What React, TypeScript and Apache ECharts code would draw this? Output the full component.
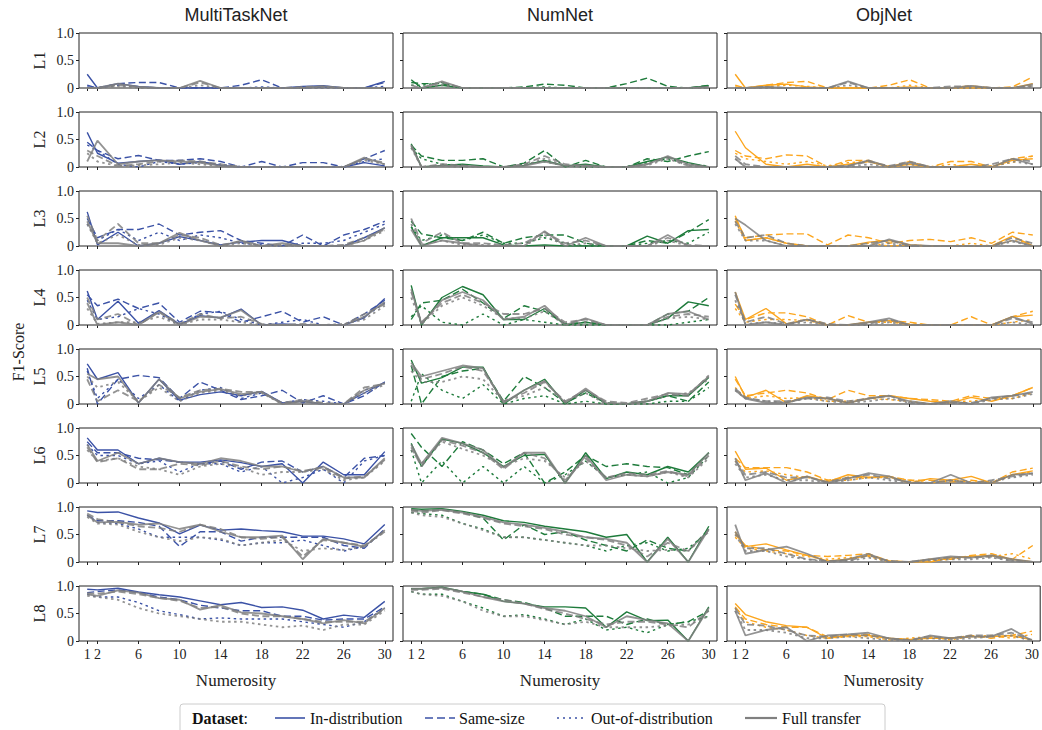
import React, { useEffect, useRef } from "react";
import * as echarts from "echarts";

// ---------- data ----------
const NUMEROSITY = [1, 2, 4, 6, 8, 10, 12, 14, 16, 18, 20, 22, 24, 26, 28, 30];
const X_TICKS = [1, 2, 6, 10, 14, 18, 22, 26, 30];
const MODELS = ["MultiTaskNet", "NumNet", "ObjNet"];
const LEVELS = ["L1", "L2", "L3", "L4", "L5", "L6", "L7", "L8"];
const DATASETS = ["In-distribution", "Same-size", "Out-of-distribution", "Full transfer"];
const MODEL_COLORS = ["#3b52a6", "#1e7b3b", "#fca61e"];
const GRAY = "#808080";

// id = In-distribution, ss = Same-size, ood = Out-of-distribution; ft* = Full transfer counterparts
const MTN_L1 = {
  id: [0.25, 0, 0.08, 0.03, 0, 0, 0, 0, 0, 0, 0, 0.03, 0.04, 0, 0, 0.12],
  ss: [0.05, 0, 0.08, 0.1, 0.1, 0, 0, 0, 0.05, 0.15, 0, 0, 0.02, 0, 0, 0.1],
  ood: [0.02, 0, 0.05, 0.02, 0, 0, 0, 0, 0, 0.02, 0, 0, 0, 0, 0, 0.03],
  ftId: [0, 0, 0.08, 0.02, 0, 0, 0.13, 0, 0, 0, 0, 0, 0.03, 0, 0, 0],
  ftSs: [0, 0, 0.05, 0.02, 0, 0, 0.1, 0, 0, 0, 0, 0.02, 0.03, 0, 0, 0],
  ftOod: [0, 0, 0.03, 0, 0, 0, 0.05, 0, 0, 0, 0, 0, 0, 0, 0, 0],
};
const MTN_L2 = {
  id: [0.63, 0.25, 0.07, 0.1, 0.13, 0.05, 0.1, 0.03, 0, 0, 0, 0, 0, 0, 0.08, 0.02],
  ss: [0.45, 0.3, 0.15, 0.21, 0.12, 0.12, 0.15, 0.1, 0, 0.1, 0, 0.08, 0.08, 0, 0.15, 0.3],
  ood: [0.4, 0.3, 0.05, 0, 0.1, 0.05, 0.08, 0.05, 0, 0, 0, 0, 0, 0, 0.1, 0.15],
  ftId: [0.1, 0.48, 0.05, 0.1, 0.12, 0.1, 0.08, 0.02, 0, 0, 0, 0, 0, 0, 0.17, 0.05],
  ftSs: [0.3, 0.2, 0.02, 0.05, 0.1, 0.12, 0.1, 0.05, 0, 0, 0, 0, 0, 0, 0.15, 0.08],
  ftOod: [0.25, 0.1, 0.02, 0.03, 0.05, 0.08, 0.05, 0.02, 0, 0, 0, 0, 0, 0, 0.12, 0.05],
};
const MTN_L3 = {
  id: [0.62, 0.02, 0.25, 0, 0.05, 0.17, 0.1, 0.02, 0.07, 0.1, 0.1, 0, 0, 0, 0.15, 0.33],
  ss: [0.5, 0.15, 0.3, 0.3, 0.4, 0.2, 0.25, 0.28, 0.1, 0.05, 0, 0.2, 0, 0.2, 0.3, 0.45],
  ood: [0.4, 0.1, 0.3, 0.1, 0.25, 0.1, 0.2, 0.15, 0.05, 0.02, 0, 0.05, 0.05, 0.1, 0.25, 0.4],
  ftId: [0.45, 0.05, 0.05, 0, 0.05, 0.24, 0.1, 0, 0.1, 0, 0.05, 0, 0, 0, 0.1, 0.33],
  ftSs: [0.55, 0.1, 0.4, 0.05, 0.05, 0.2, 0.15, 0.02, 0.08, 0, 0.02, 0, 0, 0.02, 0.15, 0.3],
  ftOod: [0.4, 0.05, 0.2, 0.02, 0.02, 0.15, 0.1, 0, 0.05, 0, 0, 0, 0, 0, 0.1, 0.28],
};
const MTN_L4 = {
  id: [0.62, 0.1, 0.43, 0.03, 0.26, 0.01, 0.17, 0.13, 0.29, 0, 0.02, 0, 0, 0, 0.13, 0.48],
  ss: [0.55, 0.35, 0.47, 0.3, 0.4, 0.05, 0.25, 0.23, 0.05, 0.15, 0.25, 0.05, 0.15, 0, 0.2, 0.45],
  ood: [0.45, 0.1, 0.15, 0.3, 0.2, 0, 0.2, 0.25, 0.1, 0, 0.05, 0.1, 0, 0, 0.15, 0.4],
  ftId: [0.4, 0, 0.05, 0, 0.23, 0, 0.15, 0.14, 0.27, 0, 0, 0, 0, 0, 0.15, 0.42],
  ftSs: [0.5, 0.1, 0.2, 0, 0.25, 0.02, 0.2, 0.12, 0.15, 0.02, 0, 0.02, 0, 0, 0.2, 0.38],
  ftOod: [0.3, 0.02, 0.05, 0.05, 0.15, 0, 0.1, 0.1, 0.05, 0, 0, 0, 0, 0.02, 0.1, 0.35],
};
const MTN_L5 = {
  id: [0.73, 0.45, 0.57, 0.02, 0.45, 0.07, 0.17, 0.22, 0.15, 0.23, 0.02, 0.05, 0, 0, 0.2, 0.4],
  ss: [0.65, 0, 0.45, 0.52, 0.48, 0.1, 0.4, 0.25, 0.08, 0.15, 0.25, 0.02, 0.15, 0, 0.15, 0.4],
  ood: [0.6, 0.1, 0.45, 0.1, 0.35, 0.05, 0.25, 0.3, 0.1, 0.2, 0.02, 0.08, 0.05, 0, 0.25, 0.38],
  ftId: [0.55, 0.45, 0.5, 0.02, 0.45, 0.1, 0.22, 0.27, 0.18, 0.22, 0, 0.05, 0, 0, 0.25, 0.38],
  ftSs: [0.45, 0.05, 0.25, 0.05, 0.35, 0.12, 0.25, 0.28, 0.22, 0.22, 0.02, 0.08, 0.02, 0, 0.3, 0.37],
  ftOod: [0.5, 0.3, 0.4, 0.05, 0.3, 0.05, 0.2, 0.25, 0.15, 0.2, 0, 0.05, 0, 0, 0.2, 0.35],
};
const MTN_L6 = {
  id: [0.82, 0.6, 0.6, 0.35, 0.45, 0.38, 0.38, 0.42, 0.37, 0.3, 0.35, 0, 0.38, 0.15, 0.15, 0.57],
  ss: [0.75, 0.55, 0.55, 0.45, 0.42, 0.38, 0.35, 0.4, 0.25, 0.38, 0.4, 0.2, 0.3, 0.1, 0.45, 0.5],
  ood: [0.7, 0.5, 0.5, 0.35, 0.4, 0.2, 0.35, 0.35, 0.2, 0.3, 0, 0.1, 0.25, 0, 0.4, 0.5],
  ftId: [0.7, 0.4, 0.55, 0.35, 0.45, 0.38, 0.35, 0.45, 0.4, 0.3, 0.3, 0.2, 0.3, 0.1, 0.1, 0.45],
  ftSs: [0.65, 0.38, 0.45, 0.25, 0.25, 0.35, 0.32, 0.4, 0.3, 0.25, 0.3, 0.22, 0.28, 0.08, 0.12, 0.42],
  ftOod: [0.6, 0.4, 0.45, 0.3, 0.25, 0.15, 0.3, 0.35, 0.28, 0.15, 0.2, 0.2, 0.25, 0.05, 0.1, 0.4],
};
const MTN_L7 = {
  id: [0.93, 0.9, 0.91, 0.8, 0.71, 0.51, 0.67, 0.58, 0.6, 0.57, 0.55, 0.47, 0.47, 0.42, 0.33, 0.68],
  ss: [0.85, 0.75, 0.75, 0.72, 0.65, 0.28, 0.55, 0.55, 0.38, 0.45, 0.45, 0.45, 0.45, 0.3, 0.25, 0.6],
  ood: [0.85, 0.72, 0.7, 0.6, 0.45, 0.45, 0.45, 0.4, 0.3, 0.35, 0.35, 0.4, 0.3, 0.2, 0.28, 0.58],
  ftId: [0.85, 0.72, 0.73, 0.68, 0.7, 0.6, 0.68, 0.55, 0.45, 0.45, 0.48, 0.05, 0.42, 0.35, 0.28, 0.58],
  ftSs: [0.88, 0.78, 0.72, 0.65, 0.62, 0.55, 0.68, 0.6, 0.45, 0.42, 0.45, 0.1, 0.4, 0.35, 0.3, 0.55],
  ftOod: [0.82, 0.7, 0.68, 0.55, 0.45, 0.38, 0.45, 0.42, 0.3, 0.35, 0.4, 0.2, 0.25, 0.22, 0.28, 0.55],
};
const MTN_L8 = {
  id: [0.94, 0.93, 0.96, 0.89, 0.84, 0.8, 0.73, 0.66, 0.7, 0.61, 0.62, 0.56, 0.4, 0.47, 0.43, 0.72],
  ss: [0.88, 0.9, 0.93, 0.88, 0.8, 0.75, 0.65, 0.6, 0.55, 0.55, 0.45, 0.45, 0.38, 0.4, 0.4, 0.62],
  ood: [0.85, 0.8, 0.8, 0.7, 0.55, 0.48, 0.4, 0.42, 0.4, 0.4, 0.4, 0.35, 0.3, 0.25, 0.35, 0.6],
  ftId: [0.85, 0.82, 0.92, 0.88, 0.78, 0.75, 0.57, 0.65, 0.52, 0.5, 0.45, 0.4, 0.32, 0.38, 0.32, 0.6],
  ftSs: [0.87, 0.86, 0.9, 0.85, 0.78, 0.73, 0.6, 0.62, 0.5, 0.45, 0.45, 0.4, 0.35, 0.35, 0.35, 0.58],
  ftOod: [0.82, 0.8, 0.75, 0.6, 0.5, 0.45, 0.4, 0.35, 0.35, 0.3, 0.25, 0.28, 0.2, 0.3, 0.3, 0.55],
};

const NUM_L1 = {
  id: [0.15, 0, 0.05, 0, 0, 0, 0, 0, 0, 0, 0, 0, 0, 0, 0, 0.04],
  ss: [0.1, 0.08, 0.08, 0, 0, 0, 0.02, 0.07, 0.05, 0, 0, 0.08, 0.18, 0.03, 0, 0.05],
  ood: [0.05, 0.05, 0.1, 0, 0, 0, 0, 0.02, 0, 0, 0, 0, 0, 0, 0, 0],
  ftId: [0, 0, 0.12, 0, 0, 0, 0, 0, 0, 0, 0, 0, 0, 0, 0, 0.02],
  ftSs: [0.05, 0, 0.1, 0, 0, 0, 0, 0, 0, 0, 0, 0, 0, 0, 0, 0],
  ftOod: [0, 0, 0.05, 0, 0, 0, 0, 0, 0, 0, 0, 0, 0, 0, 0, 0],
};
const NUM_L2 = {
  id: [0.42, 0, 0.03, 0.05, 0.02, 0, 0.03, 0.12, 0.02, 0.05, 0, 0, 0.1, 0.18, 0.08, 0],
  ss: [0.4, 0.2, 0.12, 0.12, 0.15, 0, 0.07, 0.3, 0, 0.12, 0, 0, 0.15, 0.1, 0.2, 0.28],
  ood: [0.35, 0.15, 0.05, 0.02, 0, 0, 0.05, 0.1, 0.02, 0, 0, 0, 0.08, 0.15, 0.05, 0.02],
  ftId: [0.4, 0, 0.02, 0.02, 0, 0, 0.02, 0.1, 0.02, 0.03, 0, 0, 0.05, 0.2, 0.05, 0],
  ftSs: [0.38, 0, 0.05, 0.03, 0, 0, 0.05, 0.2, 0.05, 0.02, 0, 0, 0.05, 0.18, 0.02, 0],
  ftOod: [0.35, 0, 0.02, 0, 0, 0, 0.03, 0.15, 0.03, 0, 0, 0, 0.03, 0.15, 0.02, 0],
};
const NUM_L3 = {
  id: [0.35, 0, 0.15, 0.15, 0.15, 0.02, 0, 0.02, 0, 0, 0, 0, 0.18, 0.05, 0.28, 0.3],
  ss: [0.45, 0.22, 0.15, 0.1, 0.25, 0.05, 0.15, 0.2, 0.2, 0.05, 0, 0, 0.1, 0.05, 0.25, 0.48],
  ood: [0.35, 0.1, 0.2, 0.1, 0.2, 0.05, 0.05, 0.15, 0.05, 0, 0, 0, 0.05, 0.1, 0.05, 0.25],
  ftId: [0.3, 0, 0.1, 0.05, 0, 0, 0, 0.27, 0, 0.15, 0, 0, 0, 0.2, 0, 0],
  ftSs: [0.5, 0.05, 0.25, 0.05, 0.05, 0.02, 0.05, 0.25, 0.05, 0.1, 0, 0, 0, 0.15, 0.02, 0],
  ftOod: [0.4, 0.02, 0.1, 0.02, 0.02, 0, 0, 0.2, 0, 0.05, 0, 0, 0, 0.1, 0, 0],
};
const NUM_L4 = {
  id: [0.72, 0, 0.5, 0.7, 0.55, 0.1, 0.1, 0.3, 0, 0.05, 0, 0, 0, 0.12, 0.42, 0.35],
  ss: [0.1, 0.4, 0.45, 0.65, 0.4, 0.12, 0.35, 0.25, 0.02, 0.05, 0, 0, 0, 0.2, 0.25, 0.5],
  ood: [0.15, 0.35, 0.05, 0, 0.2, 0, 0.1, 0.05, 0, 0, 0, 0, 0, 0, 0.05, 0.1],
  ftId: [0.65, 0.02, 0.45, 0.6, 0.45, 0.1, 0.15, 0.35, 0, 0.12, 0, 0, 0, 0.2, 0.25, 0.1],
  ftSs: [0.6, 0.05, 0.4, 0.55, 0.4, 0.2, 0.2, 0.3, 0.05, 0.1, 0, 0, 0, 0.15, 0.2, 0.15],
  ftOod: [0.5, 0.02, 0.35, 0.5, 0.35, 0.12, 0.12, 0.25, 0, 0.05, 0, 0, 0, 0.12, 0.15, 0.1],
};
const NUM_L5 = {
  id: [0.8, 0.38, 0.48, 0.67, 0.67, 0, 0.25, 0.45, 0, 0.25, 0, 0, 0.05, 0.15, 0.15, 0.48],
  ss: [0.7, 0, 0.5, 0.6, 0.65, 0.05, 0.5, 0.3, 0.02, 0.2, 0.02, 0, 0.05, 0.15, 0.05, 0.4],
  ood: [0.05, 0.55, 0.25, 0.1, 0.35, 0, 0.1, 0.15, 0, 0.05, 0, 0, 0, 0.05, 0.05, 0.3],
  ftId: [0.75, 0.5, 0.6, 0.7, 0.65, 0.02, 0.25, 0.42, 0.02, 0.28, 0.02, 0, 0.05, 0.2, 0.18, 0.5],
  ftSs: [0.7, 0.45, 0.55, 0.68, 0.6, 0.05, 0.2, 0.4, 0.05, 0.25, 0.05, 0.02, 0.1, 0.18, 0.15, 0.52],
  ftOod: [0.6, 0.4, 0.4, 0.5, 0.45, 0.05, 0.15, 0.3, 0.05, 0.2, 0, 0, 0.05, 0.15, 0.2, 0.45],
};
const NUM_L6 = {
  id: [0.72, 0.3, 0.8, 0.72, 0.55, 0.3, 0.5, 0.52, 0, 0.55, 0.08, 0.2, 0.15, 0.3, 0.2, 0.55],
  ss: [0.9, 0.65, 0.3, 0.75, 0.6, 0.35, 0.55, 0, 0.2, 0.5, 0.3, 0.35, 0.3, 0.28, 0.15, 0.55],
  ood: [0.6, 0, 0.4, 0, 0.3, 0, 0.3, 0, 0.15, 0.4, 0.1, 0.15, 0.2, 0, 0.1, 0.5],
  ftId: [0.7, 0.35, 0.82, 0.72, 0.6, 0.28, 0.55, 0.55, 0, 0.5, 0.05, 0.15, 0.12, 0.2, 0.15, 0.55],
  ftSs: [0.65, 0.3, 0.78, 0.68, 0.55, 0.25, 0.55, 0.45, 0.05, 0.45, 0.1, 0.18, 0.15, 0.22, 0.12, 0.5],
  ftOod: [0.6, 0.35, 0.75, 0.62, 0.5, 0.3, 0.45, 0.4, 0.1, 0.4, 0.1, 0.15, 0.12, 0.2, 0.1, 0.45],
};
const NUM_L7 = {
  id: [0.97, 0.96, 0.97, 0.92, 0.85, 0.75, 0.72, 0.65, 0.6, 0.55, 0.45, 0.5, 0, 0.45, 0, 0.65],
  ss: [0.95, 0.93, 0.95, 0.9, 0.8, 0.4, 0.68, 0.5, 0.55, 0.4, 0.3, 0.2, 0.4, 0.25, 0.2, 0.6],
  ood: [0.9, 0.88, 0.85, 0.7, 0.6, 0.45, 0.45, 0.4, 0.35, 0.3, 0.2, 0.3, 0.35, 0.2, 0.25, 0.55],
  ftId: [0.95, 0.93, 0.95, 0.9, 0.82, 0.72, 0.68, 0.62, 0.55, 0.45, 0.42, 0.35, 0, 0.42, 0, 0.6],
  ftSs: [0.93, 0.9, 0.94, 0.88, 0.8, 0.7, 0.65, 0.6, 0.5, 0.45, 0.4, 0.3, 0.1, 0.35, 0.2, 0.58],
  ftOod: [0.9, 0.85, 0.82, 0.7, 0.58, 0.45, 0.45, 0.4, 0.35, 0.3, 0.3, 0.25, 0.2, 0.22, 0.2, 0.55],
};
const NUM_L8 = {
  id: [0.95, 0.95, 0.98, 0.9, 0.85, 0.72, 0.68, 0.62, 0.62, 0.6, 0.25, 0.53, 0.37, 0.38, 0, 0.62],
  ss: [0.95, 0.95, 0.97, 0.9, 0.85, 0.75, 0.7, 0.6, 0.45, 0.45, 0.45, 0.3, 0.4, 0.3, 0.35, 0.55],
  ood: [0.9, 0.85, 0.85, 0.72, 0.6, 0.45, 0.48, 0.4, 0.3, 0.4, 0.2, 0.25, 0.15, 0.3, 0.35, 0.45],
  ftId: [0.95, 0.95, 0.97, 0.9, 0.8, 0.72, 0.68, 0.6, 0.55, 0.45, 0.25, 0.45, 0.38, 0.32, 0, 0.6],
  ftSs: [0.93, 0.93, 0.95, 0.88, 0.8, 0.75, 0.68, 0.58, 0.5, 0.4, 0.3, 0.35, 0.35, 0.3, 0.25, 0.55],
  ftOod: [0.9, 0.85, 0.82, 0.72, 0.55, 0.45, 0.45, 0.38, 0.3, 0.35, 0.25, 0.25, 0.25, 0.28, 0.3, 0.45],
};

const OBJ_L1 = {
  id: [0.25, 0, 0.05, 0.07, 0.02, 0, 0, 0, 0, 0.02, 0, 0, 0, 0, 0, 0.08],
  ss: [0.05, 0, 0.05, 0.1, 0.12, 0, 0, 0, 0.05, 0.15, 0, 0, 0.04, 0, 0.02, 0.2],
  ood: [0.02, 0, 0.03, 0.05, 0.03, 0, 0, 0, 0, 0.05, 0, 0, 0, 0, 0, 0.05],
  ftId: [0, 0, 0.02, 0, 0, 0, 0.12, 0, 0, 0, 0, 0, 0.04, 0, 0, 0.07],
  ftSs: [0, 0, 0.02, 0, 0, 0, 0.1, 0, 0, 0, 0, 0.03, 0.03, 0, 0, 0.04],
  ftOod: [0, 0, 0, 0, 0, 0, 0.05, 0, 0, 0, 0, 0, 0, 0, 0, 0.02],
};
const OBJ_L2 = {
  id: [0.65, 0.35, 0.05, 0, 0.05, 0, 0.05, 0.1, 0, 0.05, 0, 0, 0.05, 0, 0.12, 0.15],
  ss: [0.3, 0.2, 0.15, 0.22, 0.2, 0, 0.12, 0.12, 0, 0.1, 0, 0.1, 0.1, 0, 0.15, 0.2],
  ood: [0.25, 0.15, 0.1, 0.05, 0.1, 0.02, 0.08, 0.1, 0.02, 0.05, 0, 0.05, 0, 0.02, 0.08, 0.2],
  ftId: [0.15, 0, 0, 0, 0, 0, 0.02, 0.12, 0, 0.08, 0, 0, 0, 0, 0.15, 0.05],
  ftSs: [0.2, 0.05, 0, 0, 0, 0, 0.02, 0.1, 0.02, 0.1, 0, 0, 0, 0.05, 0.15, 0.1],
  ftOod: [0.15, 0, 0, 0, 0, 0, 0, 0.05, 0, 0.05, 0, 0, 0, 0, 0.1, 0.05],
};
const OBJ_L3 = {
  id: [0.55, 0.1, 0.15, 0.05, 0, 0, 0, 0.07, 0.1, 0.02, 0, 0, 0, 0, 0.18, 0],
  ss: [0.5, 0.15, 0.2, 0.22, 0.22, 0.02, 0.2, 0.15, 0.05, 0.1, 0.12, 0.08, 0.15, 0.05, 0.25, 0.2],
  ood: [0.45, 0.1, 0.15, 0.05, 0, 0, 0, 0.05, 0, 0.02, 0, 0, 0.05, 0, 0.1, 0.05],
  ftId: [0.5, 0.38, 0.1, 0, 0, 0, 0, 0, 0.12, 0.02, 0, 0, 0, 0, 0.1, 0],
  ftSs: [0.45, 0.15, 0.2, 0.05, 0, 0, 0, 0.05, 0.1, 0, 0, 0, 0, 0, 0.15, 0.05],
  ftOod: [0.4, 0.1, 0.1, 0, 0, 0, 0, 0, 0.05, 0, 0, 0, 0, 0, 0.08, 0],
};
const OBJ_L4 = {
  id: [0.6, 0.1, 0.3, 0.02, 0.1, 0, 0, 0.05, 0.08, 0, 0, 0, 0, 0, 0.15, 0.18],
  ss: [0.38, 0.1, 0.22, 0.22, 0.15, 0, 0.17, 0.05, 0.08, 0.05, 0, 0, 0.15, 0, 0.15, 0.25],
  ood: [0.3, 0.05, 0.1, 0.1, 0.08, 0, 0, 0.05, 0.05, 0.02, 0, 0, 0, 0, 0.05, 0.1],
  ftId: [0.6, 0, 0.05, 0, 0.1, 0, 0, 0.05, 0.12, 0, 0, 0, 0, 0, 0.15, 0.02],
  ftSs: [0.55, 0.05, 0.15, 0.02, 0.1, 0.02, 0, 0.02, 0.1, 0, 0, 0, 0, 0, 0.12, 0.05],
  ftOod: [0.45, 0.02, 0.05, 0.02, 0.05, 0, 0, 0, 0.05, 0, 0, 0, 0, 0, 0.05, 0],
};
const OBJ_L5 = {
  id: [0.5, 0.12, 0.25, 0.02, 0.15, 0.1, 0.02, 0.1, 0.15, 0.1, 0.05, 0.02, 0.12, 0.05, 0.15, 0.3],
  ss: [0.45, 0.15, 0.2, 0.25, 0.2, 0.08, 0.25, 0.15, 0.15, 0.1, 0.08, 0.05, 0.15, 0.1, 0.15, 0.3],
  ood: [0.3, 0.1, 0.15, 0.1, 0.12, 0.05, 0.05, 0.1, 0.08, 0.05, 0, 0.05, 0.05, 0.1, 0.1, 0.2],
  ftId: [0.25, 0.1, 0.02, 0.02, 0.12, 0.1, 0.02, 0.1, 0.15, 0.05, 0, 0.05, 0, 0.12, 0.15, 0.22],
  ftSs: [0.28, 0.12, 0.05, 0.05, 0.1, 0.12, 0.05, 0.1, 0.15, 0.02, 0, 0.02, 0.02, 0.1, 0.15, 0.2],
  ftOod: [0.25, 0.1, 0.05, 0.03, 0.1, 0.05, 0.02, 0.05, 0.1, 0.02, 0, 0.02, 0, 0.08, 0.1, 0.18],
};
const OBJ_L6 = {
  id: [0.58, 0.25, 0.27, 0.05, 0.12, 0.02, 0.15, 0.1, 0.12, 0, 0.08, 0.05, 0.12, 0, 0.15, 0.22],
  ss: [0.45, 0.28, 0.28, 0.28, 0.2, 0.05, 0.1, 0.1, 0.12, 0.05, 0.05, 0.02, 0.05, 0, 0.2, 0.27],
  ood: [0.4, 0.2, 0.22, 0.15, 0.1, 0.05, 0.05, 0.1, 0.1, 0.05, 0, 0.05, 0.02, 0, 0.15, 0.2],
  ftId: [0.45, 0.05, 0.18, 0, 0.12, 0, 0.08, 0.18, 0.12, 0, 0, 0.15, 0, 0, 0.15, 0.17],
  ftSs: [0.4, 0.15, 0.2, 0.1, 0.1, 0.02, 0.1, 0.15, 0.08, 0.02, 0, 0.05, 0, 0.05, 0.12, 0.18],
  ftOod: [0.35, 0.1, 0.15, 0.05, 0.05, 0, 0.05, 0.1, 0.05, 0, 0, 0.05, 0, 0.02, 0.1, 0.15],
};
const OBJ_L7 = {
  id: [0.55, 0.28, 0.33, 0.22, 0.12, 0.02, 0.05, 0.12, 0.02, 0, 0, 0.08, 0.1, 0.12, 0.05, 0],
  ss: [0.5, 0.3, 0.22, 0.2, 0.12, 0.1, 0.12, 0.15, 0.02, 0, 0.05, 0.05, 0.12, 0.15, 0.05, 0.3],
  ood: [0.45, 0.25, 0.2, 0.15, 0.1, 0.05, 0.08, 0.1, 0, 0, 0.02, 0.05, 0.1, 0.1, 0.15, 0.05],
  ftId: [0.68, 0.15, 0.22, 0.28, 0.15, 0, 0.05, 0.15, 0, 0, 0.05, 0.1, 0.08, 0.12, 0.05, 0],
  ftSs: [0.55, 0.25, 0.25, 0.15, 0.05, 0.02, 0.02, 0.12, 0.02, 0, 0.05, 0.08, 0.08, 0.1, 0.02, 0],
  ftOod: [0.5, 0.2, 0.2, 0.1, 0.05, 0, 0.02, 0.08, 0, 0, 0.03, 0.05, 0.05, 0.08, 0.02, 0],
};
const OBJ_L8 = {
  id: [0.68, 0.48, 0.35, 0.28, 0.25, 0.05, 0.1, 0.1, 0.05, 0.03, 0.05, 0.05, 0.08, 0.08, 0.1, 0.02],
  ss: [0.62, 0.4, 0.3, 0.25, 0.25, 0.08, 0.1, 0.12, 0.05, 0.02, 0.05, 0.05, 0.1, 0.05, 0.1, 0.18],
  ood: [0.6, 0.35, 0.25, 0.2, 0.1, 0.05, 0.08, 0.08, 0.02, 0.05, 0.08, 0.02, 0.08, 0.1, 0.05, 0.12],
  ftId: [0.55, 0.1, 0.2, 0.25, 0, 0.1, 0.12, 0.15, 0.05, 0, 0.1, 0.05, 0.08, 0.08, 0.22, 0],
  ftSs: [0.6, 0.3, 0.28, 0.2, 0.1, 0.08, 0.12, 0.1, 0.05, 0.02, 0.08, 0.05, 0.1, 0.1, 0.15, 0.02],
  ftOod: [0.55, 0.2, 0.2, 0.15, 0.05, 0.05, 0.08, 0.05, 0.02, 0, 0.05, 0.02, 0.05, 0.08, 0.1, 0],
};

const PANELS = [
  [MTN_L1, MTN_L2, MTN_L3, MTN_L4, MTN_L5, MTN_L6, MTN_L7, MTN_L8],
  [NUM_L1, NUM_L2, NUM_L3, NUM_L4, NUM_L5, NUM_L6, NUM_L7, NUM_L8],
  [OBJ_L1, OBJ_L2, OBJ_L3, OBJ_L4, OBJ_L5, OBJ_L6, OBJ_L7, OBJ_L8],
];

// ---------- layout / style ----------
const SERIF = "'Liberation Serif', 'DejaVu Serif', 'Times New Roman', serif";
const SANS = "'Liberation Sans', Arial, 'DejaVu Sans', sans-serif";
const COL_LEFT = [79, 403, 727];
const PANEL_W = 314;
const ROW_TOP0 = 33;
const ROW_PITCH = 79;
const PANEL_H = 55;
const DASHED: number[] = [7, 3.5];
const DOTTED: number[] = [2.5, 3.5];

function buildOption() {
  const grid: any[] = [];
  const xAxis: any[] = [];
  const yAxis: any[] = [];
  const series: any[] = [];
  const graphic: any[] = [];

  for (let r = 0; r < LEVELS.length; r++) {
    for (let c = 0; c < MODELS.length; c++) {
      const idx = grid.length;
      const bottomRow = r === LEVELS.length - 1;
      grid.push({
        left: COL_LEFT[c],
        top: ROW_TOP0 + r * ROW_PITCH,
        width: PANEL_W,
        height: PANEL_H,
        show: true,
        borderColor: "#222",
        borderWidth: 1,
        backgroundColor: "transparent",
      });
      xAxis.push({
        gridIndex: idx,
        type: "value",
        min: 0.2,
        max: 30.8,
        axisLine: { show: false },
        splitLine: { show: false },
        axisTick: {
          show: true,
          customValues: X_TICKS,
          length: 3,
          lineStyle: { color: "#222", width: 1 },
        },
        axisLabel: {
          show: bottomRow,
          customValues: X_TICKS,
          fontFamily: SERIF,
          fontSize: 14,
          color: "#222",
          margin: 6,
        },
        name: bottomRow ? "Numerosity" : "",
        nameLocation: "middle",
        nameGap: 31,
        nameTextStyle: { fontFamily: SERIF, fontSize: 17, color: "#222" },
      });
      yAxis.push({
        gridIndex: idx,
        type: "value",
        min: 0,
        max: 1,
        interval: 0.5,
        axisLine: { show: false },
        splitLine: { show: false },
        axisTick: { show: true, length: 3, lineStyle: { color: "#222", width: 1 } },
        axisLabel: {
          show: c === 0,
          fontFamily: SERIF,
          fontSize: 14,
          color: "#222",
          margin: 5,
          formatter: (v: number) => (v === 1 ? "1.0" : v === 0 ? "0" : "0.5"),
        },
        name: c === 0 ? LEVELS[r] : "",
        nameLocation: "middle",
        nameGap: 32,
        nameRotate: 90,
        nameTextStyle: { fontFamily: SERIF, fontSize: 16, color: "#222" },
      });

      const p: any = PANELS[c][r];
      const color = MODEL_COLORS[c];
      const lines = [
        { arr: p.id, color, width: 1.4, type: "solid" as any, z: 2, op: 1 },
        { arr: p.ss, color, width: 1.4, type: DASHED, z: 2, op: 1 },
        { arr: p.ood, color, width: 1.4, type: DOTTED, z: 2, op: 1 },
        { arr: p.ftId, color: GRAY, width: 1.8, type: "solid" as any, z: 3, op: 0.85 },
        { arr: p.ftSs, color: GRAY, width: 1.8, type: DASHED, z: 3, op: 0.85 },
        { arr: p.ftOod, color: GRAY, width: 1.8, type: DOTTED, z: 3, op: 0.85 },
      ];
      lines.forEach((l) => {
        series.push({
          type: "line",
          xAxisIndex: idx,
          yAxisIndex: idx,
          data: NUMEROSITY.map((x, i) => [x, l.arr[i]]),
          showSymbol: false,
          symbol: "none",
          silent: true,
          z: l.z,
          lineStyle: { color: l.color, width: l.width, type: l.type, opacity: l.op },
        });
      });
    }
  }

  // column titles
  MODELS.forEach((m, c) => {
    graphic.push({
      type: "text",
      x: COL_LEFT[c] + PANEL_W / 2,
      y: 15,
      style: {
        text: m,
        fontFamily: SANS,
        fontSize: 18,
        fill: "#222",
        align: "center",
        verticalAlign: "middle",
      },
    });
  });

  // F1-Score label
  graphic.push({
    type: "text",
    x: 18,
    y: 352,
    rotation: Math.PI / 2,
    style: {
      text: "F1-Score",
      fontFamily: SERIF,
      fontSize: 16,
      fill: "#222",
      align: "center",
      verticalAlign: "middle",
    },
  });

  // legend
  const ly = 718;
  graphic.push({
    type: "rect",
    shape: { x: 180, y: 704, width: 705, height: 30, r: 3 },
    style: { fill: "#fff", stroke: "#cccccc", lineWidth: 1 },
    z: 10,
  });
  graphic.push({
    type: "text",
    x: 192,
    y: ly,
    z: 11,
    style: {
      text: "{b|Dataset}:",
      rich: { b: { fontWeight: "bold", fontFamily: SERIF, fontSize: 16, fill: "#111" } },
      fontFamily: SERIF,
      fontSize: 16,
      fill: "#111",
      verticalAlign: "middle",
    },
  });
  const legendItems = [
    { label: DATASETS[0], x1: 275, x2: 305, tx: 310, color: MODEL_COLORS[0], dash: null as any, w: 1.6 },
    { label: DATASETS[1], x1: 425, x2: 455, tx: 459, color: MODEL_COLORS[0], dash: [8, 4], w: 1.6 },
    { label: DATASETS[2], x1: 557, x2: 587, tx: 591, color: MODEL_COLORS[0], dash: [2, 4], w: 1.6 },
    { label: DATASETS[3], x1: 745, x2: 777, tx: 782, color: GRAY, dash: null as any, w: 2.2 },
  ];
  legendItems.forEach((it) => {
    graphic.push({
      type: "line",
      z: 11,
      shape: { x1: it.x1, y1: ly, x2: it.x2, y2: ly },
      style: { stroke: it.color, lineWidth: it.w, lineDash: it.dash || undefined },
    });
    graphic.push({
      type: "text",
      x: it.tx,
      y: ly,
      z: 11,
      style: {
        text: it.label,
        fontFamily: SERIF,
        fontSize: 16,
        fill: "#111",
        verticalAlign: "middle",
      },
    });
  });

  return {
    animation: false,
    backgroundColor: "#ffffff",
    grid,
    xAxis,
    yAxis,
    series,
    graphic,
  };
}

export default function App() {
  const ref = useRef<HTMLDivElement>(null);
  useEffect(() => {
    if (!ref.current) return;
    const chart = echarts.init(ref.current, undefined, { renderer: "svg" });
    chart.setOption(buildOption() as any);
    return () => chart.dispose();
  }, []);
  return (
    <div
      ref={ref}
      style={{ position: "fixed", left: 0, top: 0, width: 1042, height: 730, background: "#fff" }}
    />
  );
}
